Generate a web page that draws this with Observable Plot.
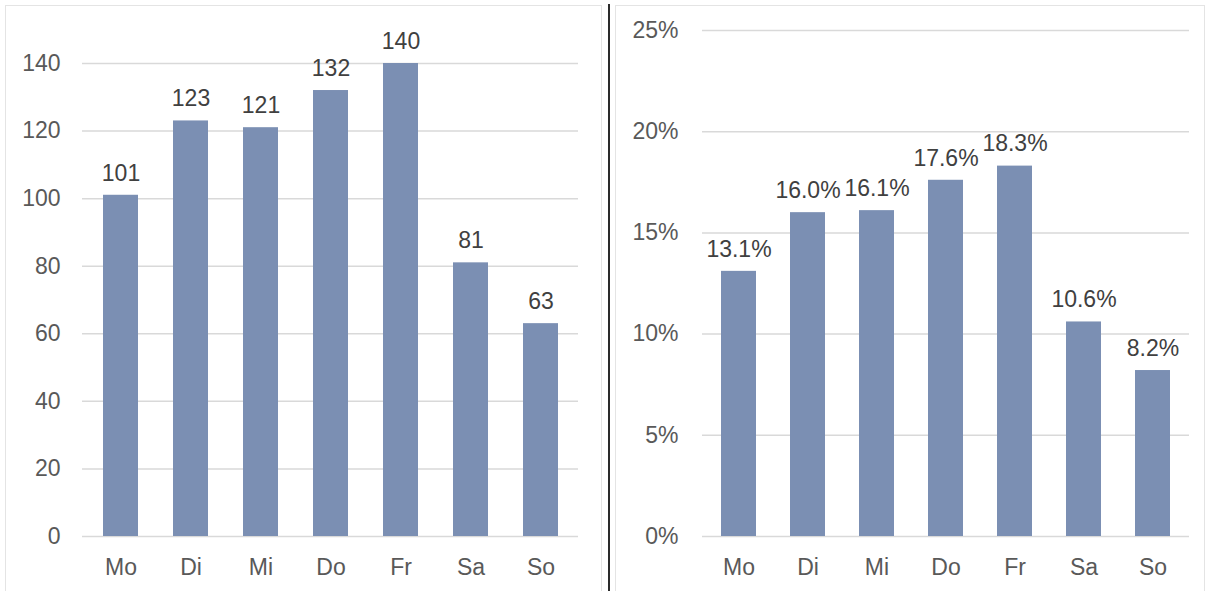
<!DOCTYPE html>
<html>
<head>
<meta charset="utf-8">
<script src="https://cdn.jsdelivr.net/npm/d3@7"></script>
<script src="https://cdn.jsdelivr.net/npm/@observablehq/plot@0.6"></script>
<style>
  html, body { margin: 0; padding: 0; background: #fff; }
  #wrap { position: relative; width: 1212px; height: 591px; overflow: hidden; background: #fff; }
  #left { position: absolute; left: 0; top: 0; }
  #right { position: absolute; left: 612px; top: 0; }
  #sep { position: absolute; left: 608px; top: 4px; width: 2px; height: 587px; background: #2b2b2b; }
  #bl { position: absolute; left: 5px; top: 5px; width: 597px; height: 590px; border: 1px solid #e4e4e4; box-sizing: border-box; }
  #br { position: absolute; left: 615px; top: 5px; width: 590px; height: 590px; border: 1px solid #e4e4e4; box-sizing: border-box; }
</style>
</head>
<body>
<div id="wrap">
  <div id="bl"></div>
  <div id="br"></div>
  <div id="left"></div>
  <div id="right"></div>
  <div id="sep"></div>
</div>
<script>
const days = ["Mo", "Di", "Mi", "Do", "Fr", "Sa", "So"];
const counts = [101, 123, 121, 132, 140, 81, 63];
const shares = [13.1, 16.0, 16.1, 17.6, 18.3, 10.6, 8.2];
const countTicks = [0, 20, 40, 60, 80, 100, 120, 140];
const shareTicks = [0, 5, 10, 15, 20, 25];

const barColor = "#7b8fb3";
const font = "'Liberation Sans', Arial, sans-serif";

const countData = days.map((d, i) => ({day: d, value: counts[i]}));
const shareData = days.map((d, i) => ({day: d, value: shares[i]}));

const left = Plot.plot({
  width: 600,
  height: 591,
  marginLeft: 82,
  marginRight: 22,
  marginTop: 63,
  marginBottom: 55,
  style: {fontFamily: font, fontSize: "23px", color: "#595959", background: "transparent"},
  x: {domain: days, paddingInner: 0.5, paddingOuter: 0.25, label: null},
  y: {domain: [0, 140], label: null},
  marks: [
    Plot.gridY(countTicks, {stroke: "#d9d9d9", strokeOpacity: 1, strokeWidth: 1.5}),
    Plot.axisY(countTicks, {tickSize: 0, tickPadding: 22, label: null, fill: "#595959", fontSize: 23}),
    Plot.axisX({tickSize: 0, tickPadding: 22, label: null, fill: "#595959", fontSize: 23}),
    Plot.barY(countData, {x: "day", y: "value", fill: barColor}),
    Plot.text(countData, {x: "day", y: "value", text: d => String(d.value), dy: -22, fill: "#404040", fontSize: 23})
  ]
});
document.getElementById("left").appendChild(left);

const right = Plot.plot({
  width: 600,
  height: 591,
  marginLeft: 90,
  marginRight: 23,
  marginTop: 30,
  marginBottom: 55,
  style: {fontFamily: font, fontSize: "23px", color: "#595959", background: "transparent"},
  x: {domain: days, paddingInner: 0.5, paddingOuter: 0.25, label: null},
  y: {domain: [0, 25], label: null},
  marks: [
    Plot.gridY(shareTicks, {stroke: "#d9d9d9", strokeOpacity: 1, strokeWidth: 1.5}),
    Plot.axisY(shareTicks, {tickSize: 0, tickPadding: 24, label: null, tickFormat: d => d + "%", fill: "#595959", fontSize: 23}),
    Plot.axisX({tickSize: 0, tickPadding: 22, label: null, fill: "#595959", fontSize: 23}),
    Plot.barY(shareData, {x: "day", y: "value", fill: barColor}),
    Plot.text(shareData, {x: "day", y: "value", text: d => d.value.toFixed(1) + "%", dy: -22, fill: "#404040", fontSize: 23})
  ]
});
document.getElementById("right").appendChild(right);
</script>
</body>
</html>
